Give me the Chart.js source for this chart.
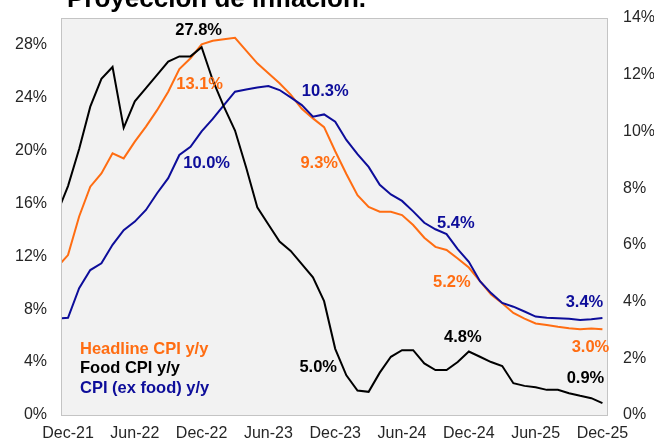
<!DOCTYPE html>
<html>
<head>
<meta charset="utf-8">
<script src="https://cdn.jsdelivr.net/npm/chart.js@4.4.1/dist/chart.umd.min.js"></script>
<style>
  html, body { margin: 0; padding: 0; background: #fff; overflow: hidden; }
  #wrap { width: 654px; height: 443px; }
</style>
</head>
<body>
<div id="wrap"><canvas id="chart" width="654" height="443"></canvas></div>
<script>
// monthly series, Nov-21 .. Dec-25 (first month sits just left of the plot)
const months = [
  'Nov-21', 'Dec-21',
  'Jan-22', 'Feb-22', 'Mar-22', 'Apr-22', 'May-22', 'Jun-22', 'Jul-22', 'Aug-22', 'Sep-22', 'Oct-22', 'Nov-22', 'Dec-22',
  'Jan-23', 'Feb-23', 'Mar-23', 'Apr-23', 'May-23', 'Jun-23', 'Jul-23', 'Aug-23', 'Sep-23', 'Oct-23', 'Nov-23', 'Dec-23',
  'Jan-24', 'Feb-24', 'Mar-24', 'Apr-24', 'May-24', 'Jun-24', 'Jul-24', 'Aug-24', 'Sep-24', 'Oct-24', 'Nov-24', 'Dec-24',
  'Jan-25', 'Feb-25', 'Mar-25', 'Apr-25', 'May-25', 'Jun-25', 'Jul-25', 'Aug-25', 'Sep-25', 'Oct-25', 'Nov-25', 'Dec-25'
];
const headline = [
  5.2, 5.64,
  7.0, 8.05, 8.52, 9.23, 9.05, 9.64, 10.17, 10.75, 11.4, 12.2, 12.58, 13.07,
  13.2, 13.25, 13.3, 12.85, 12.4, 12.05, 11.7, 11.3, 10.8, 10.46, 10.15, 9.3,
  8.5, 7.75, 7.34, 7.17, 7.17, 7.05, 6.7, 6.25, 5.93, 5.82, 5.52, 5.2,
  4.72, 4.25, 3.94, 3.6, 3.4, 3.23, 3.17, 3.11, 3.06, 3.02, 3.05, 3.02
];
const food = [
  15.2, 17.3,
  20.1, 23.3, 25.4, 26.3, 21.7, 23.7, 24.7, 25.7, 26.7, 27.1, 27.1, 27.8,
  25.3, 23.3, 21.5, 18.7, 15.7, 14.4, 13.1, 12.4, 11.4, 10.4, 8.6, 5.0,
  3.0, 1.85, 1.75, 3.2, 4.4, 4.9, 4.9, 3.9, 3.4, 3.4, 4.0, 4.8,
  4.4, 4.0, 3.7, 2.4, 2.2, 2.1, 1.9, 1.9, 1.65, 1.45, 1.27, 0.9
];
const exFood = [
  3.4, 3.43,
  4.47, 5.11, 5.35, 6.0, 6.52, 6.82, 7.23, 7.82, 8.35, 9.17, 9.46, 10.0,
  10.44, 10.93, 11.4, 11.48, 11.55, 11.6, 11.46, 11.2, 10.93, 10.52, 10.6, 10.34,
  9.7, 9.2, 8.75, 8.12, 7.78, 7.55, 7.18, 6.78, 6.55, 6.38, 5.85, 5.4,
  4.72, 4.3, 3.95, 3.82, 3.65, 3.47, 3.43, 3.41, 3.39, 3.35, 3.38, 3.42
];
const xTickLabels = ['Dec-21', 'Jun-22', 'Dec-22', 'Jun-23', 'Dec-23', 'Jun-24', 'Dec-24', 'Jun-25', 'Dec-25'];
const leftTicks = [0, 4, 8, 12, 16, 20, 24, 28];
const rightTicks = [0, 2, 4, 6, 8, 10, 12, 14];
const labelledMonths = ['Dec-22', 'Dec-23', 'Dec-24', 'Dec-25'];

const ORANGE = '#ff6d12';
const NAVY = '#0d0d9a';
const BLACK = '#000000';
const FONT = '"Liberation Sans", Arial, sans-serif';

// x value: months since Dec-21
const toX = (m) => months.indexOf(m) - 1;
const pts = (arr) => arr.map((v, i) => ({ x: i - 1, y: v }));

const series = [
  { label: 'Headline CPI y/y', data: headline, color: ORANGE, axis: 'yR', order: 2 },
  { label: 'Food CPI y/y', data: food, color: BLACK, axis: 'yL', order: 0 },
  { label: 'CPI (ex food) y/y', data: exFood, color: NAVY, axis: 'yR', order: 1 },
];

// label offsets (px) from the point, per series, per labelled month
const labelOffsets = {
  'Headline CPI y/y': [[-2, 40], [-16, 12], [-17, 15], [-12, 18]],
  'Food CPI y/y': [[-3, -17], [-17, 19], [-6, -14], [-17, -25]],
  'CPI (ex food) y/y': [[5, 32], [-10, -30], [-13, -38], [-18, -16]],
};

const plotBox = {
  id: 'plotBox',
  beforeDraw(chart) {
    const { ctx, chartArea: a } = chart;
    ctx.save();
    ctx.fillStyle = '#f2f2f2';
    ctx.fillRect(a.left, a.top, a.right - a.left, a.bottom - a.top);
    ctx.strokeStyle = '#c4c4c4';
    ctx.lineWidth = 1;
    ctx.strokeRect(Math.round(a.left) - 0.5, Math.round(a.top) + 0.5,
      Math.round(a.right - a.left), Math.round(a.bottom - a.top));
    ctx.fillStyle = '#000';
    ctx.font = 'bold 26px ' + FONT;
    ctx.textBaseline = 'alphabetic';
    ctx.fillText('Proyección de inflación.', 67, 7);
    ctx.restore();
  },
  afterDatasetsDraw(chart) {
    const { ctx, chartArea: a, scales } = chart;
    ctx.save();
    ctx.font = 'bold 16.5px ' + FONT;
    ctx.textAlign = 'center';
    ctx.textBaseline = 'middle';
    chart.data.datasets.forEach((ds) => {
      const offs = labelOffsets[ds.label];
      labelledMonths.forEach((m, k) => {
        const idx = months.indexOf(m);
        const v = ds.data[idx].y;
        const px = scales.x.getPixelForValue(toX(m));
        const py = scales[ds.yAxisID].getPixelForValue(v);
        ctx.fillStyle = ds.borderColor;
        ctx.fillText(v.toFixed(1) + '%', px + offs[k][0], py + offs[k][1]);
      });
    });
    // legend text block, bottom left of plot
    ctx.textAlign = 'left';
    chart.data.datasets.forEach((ds, i) => {
      ctx.fillStyle = ds.borderColor;
      ctx.fillText(ds.label, a.left + 18, a.bottom - 66 + i * 19.5);
    });
    ctx.restore();
  },
};

const yFit = (w) => (s) => { s.width = w; s.paddingTop = 0; s.paddingBottom = 0; };

new Chart(document.getElementById('chart'), {
  type: 'line',
  data: {
    datasets: series.map((s) => ({
      label: s.label,
      data: pts(s.data),
      borderColor: s.color,
      backgroundColor: s.color,
      borderWidth: 2,
      pointRadius: 0,
      tension: 0,
      yAxisID: s.axis,
      order: s.order,
    })),
  },
  options: {
    responsive: false,
    animation: false,
    devicePixelRatio: 1,
    layout: { padding: { left: 0, top: 18, right: 0, bottom: 0 } },
    plugins: { legend: { display: false }, tooltip: { enabled: false } },
    scales: {
      x: {
        type: 'linear',
        min: -0.54,
        max: 48.5,
        grid: { display: false, drawTicks: false },
        border: { display: false },
        afterBuildTicks: (s) => { s.ticks = xTickLabels.map((l) => ({ value: toX(l) })); },
        afterFit: (s) => { s.height = 28; },
        ticks: {
          autoSkip: false, maxRotation: 0, padding: 9, color: '#262626',
          font: { family: FONT, size: 16 },
          callback: (v) => months[v + 1],
        },
      },
      yL: {
        position: 'left',
        min: 0,
        max: 30,
        grid: { display: false, drawTicks: false },
        border: { display: false },
        afterBuildTicks: (s) => { s.ticks = leftTicks.map((v) => ({ value: v })); },
        afterFit: yFit(62),
        ticks: { padding: 15, color: '#262626', font: { family: FONT, size: 16 }, callback: (v) => v + '%' },
      },
      yR: {
        position: 'right',
        min: 0,
        max: 14,
        grid: { display: false, drawTicks: false },
        border: { display: false },
        afterBuildTicks: (s) => { s.ticks = rightTicks.map((v) => ({ value: v })); },
        afterFit: yFit(46),
        ticks: { padding: 15, color: '#262626', font: { family: FONT, size: 16 }, callback: (v) => v + '%' },
      },
    },
  },
  plugins: [plotBox],
});
</script>
</body>
</html>
